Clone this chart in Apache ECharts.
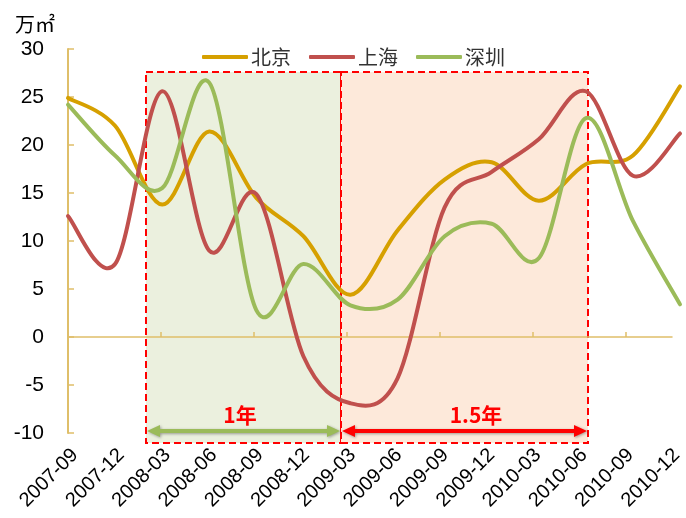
<!DOCTYPE html>
<html>
<head>
<meta charset="utf-8">
<script src="https://cdn.jsdelivr.net/npm/echarts@6/dist/echarts.min.js"></script>
<style>
  html, body { margin: 0; padding: 0; background: #fff; }
  #chart { width: 686px; height: 518px; }
</style>
</head>
<body>
<div id="chart"></div>
<script>
// quarterly categories
const months = ['2007-09', '2007-12', '2008-03', '2008-06', '2008-09', '2008-12', '2009-03',
  '2009-06', '2009-09', '2009-12', '2010-03', '2010-06', '2010-09', '2010-12'];

// 万㎡
const beijing = [24.9, 22.0, 13.8, 21.4, 14.5, 10.5, 4.4, 11.1, 16.4, 18.2, 14.2, 18.0, 18.9, 26.1];
const shanghai = [12.6, 7.6, 25.6, 9.0, 14.9, -2.0, -6.9, -4.3, 13.5, 17.2, 20.6, 25.6, 16.8, 21.2];
const shenzhen = [24.2, 18.9, 15.5, 26.5, 2.8, 7.6, 3.3, 3.9, 10.5, 11.8, 8.2, 22.8, 12.1, 3.4];

const seriesNames = ['北京', '上海', '深圳'];
const seriesColors = ['#d6a000', '#c0504d', '#9bbb59'];

const axisColor = '#dfbf6a';
const cjk = 'Noto Sans CJK SC';

// Excel-like smoothing: catmull-rom through the points, allowed to overshoot
function smoothPath(api, vals) {
  const pts = vals.map((v, i) => api.coord([i, v]));
  const n = pts.length;
  let d = 'M' + pts[0][0] + ' ' + pts[0][1];
  for (let i = 0; i < n - 1; i++) {
    const p0 = pts[Math.max(i - 1, 0)];
    const p1 = pts[i];
    const p2 = pts[i + 1];
    const p3 = pts[Math.min(i + 2, n - 1)];
    const c1 = [p1[0] + (p2[0] - p0[0]) / 6, p1[1] + (p2[1] - p0[1]) / 6];
    const c2 = [p2[0] - (p3[0] - p1[0]) / 6, p2[1] - (p3[1] - p1[1]) / 6];
    d += ' C' + c1.join(' ') + ' ' + c2.join(' ') + ' ' + p2.join(' ');
  }
  return d;
}

// period annotations drawn over the plot (pixels)
function doubleArrow(x1, x2, y, color) {
  const h = 6, L = 13, t = 2;
  return {
    type: 'polygon',
    z: 5,
    shape: {
      points: [[x1, y], [x1 + L, y - h], [x1 + L, y - t], [x2 - L, y - t], [x2 - L, y - h],
        [x2, y], [x2 - L, y + h], [x2 - L, y + t], [x1 + L, y + t], [x1 + L, y + h]]
    },
    style: {
      fill: color, shadowBlur: 3, shadowColor: 'rgba(0,0,0,0.35)',
      shadowOffsetX: 1, shadowOffsetY: 1
    }
  };
}

function periodLabel(x, y, text) {
  return {
    type: 'text', x: x, y: y, z: 5,
    style: {
      text: text, fill: '#ff0000', fontSize: 21, fontWeight: 'bold', fontFamily: cjk,
      align: 'center', verticalAlign: 'middle'
    }
  };
}

const chart = echarts.init(document.getElementById('chart'));

chart.setOption({
  animation: false,
  textStyle: { fontFamily: "'Liberation Sans', 'Noto Sans CJK SC'" },
  title: {
    text: '万㎡',
    left: 15,
    top: 14,
    padding: 0,
    textStyle: { fontSize: 20, fontWeight: 'normal', color: '#000', fontFamily: cjk }
  },
  legend: {
    data: seriesNames.map(name => ({ name: name, icon: 'roundRect' })),
    left: 202,
    top: 47,
    padding: 0,
    itemWidth: 46,
    itemHeight: 4,
    itemGap: 18,
    textStyle: { fontSize: 20, color: '#333', fontFamily: cjk, padding: [0, 0, 0, -2] }
  },
  grid: [
    { left: 68, right: 6, top: 49, bottom: 85 },
    { left: 68, right: 14, top: 49, bottom: 85 },
    { left: 75, right: 7, top: 49, bottom: 85 }
  ],
  xAxis: [
    { gridIndex: 0, type: 'category', data: months, boundaryGap: false, show: false },
    {
      gridIndex: 1, type: 'category', data: months, boundaryGap: false, position: 'bottom', z: 1,
      axisLine: { onZero: true, lineStyle: { color: axisColor, width: 1.5 } },
      axisTick: { inside: true, length: 5, lineStyle: { color: axisColor, width: 1.5 } },
      axisLabel: { show: false }
    },
    {
      gridIndex: 2, type: 'category', data: months, boundaryGap: false, position: 'bottom',
      axisLine: { show: false, onZero: false },
      axisTick: { show: false },
      axisLabel: { rotate: 45, fontSize: 20, color: '#000', margin: 19, interval: 0 }
    }
  ],
  yAxis: [
    {
      gridIndex: 0, type: 'value', min: -10, max: 30, interval: 5, z: 1,
      axisLine: { show: true, lineStyle: { color: axisColor, width: 2 } },
      axisTick: { show: true, inside: true, length: 6, lineStyle: { color: axisColor, width: 1.5 } },
      axisLabel: { fontSize: 21, color: '#000', margin: 24 },
      splitLine: { show: false }
    },
    { gridIndex: 1, type: 'value', min: -10, max: 30, interval: 5, show: false },
    { gridIndex: 2, type: 'value', min: -10, max: 30, interval: 5, show: false }
  ],
  graphic: [
    {
      type: 'rect', z: 0,
      shape: { x: 146, y: 72, width: 195, height: 371 },
      style: { fill: '#ebf0de', stroke: '#ff0000', lineWidth: 2, lineDash: [7, 4] }
    },
    {
      type: 'rect', z: 0,
      shape: { x: 341, y: 72, width: 247, height: 371 },
      style: { fill: '#fde9da', stroke: '#ff0000', lineWidth: 2, lineDash: [7, 4] }
    },
    doubleArrow(147, 340, 431, '#9bbb59'),
    doubleArrow(342, 587, 431, '#ff0000'),
    periodLabel(240, 415, '1年'),
    periodLabel(476, 415, '1.5年')
  ],
  series: [beijing, shanghai, shenzhen].map((vals, i) => ({
    name: seriesNames[i],
    type: 'custom',
    xAxisIndex: 0,
    yAxisIndex: 0,
    z: 3,
    data: vals.map((v, k) => [k, v]),
    encode: { x: 0, y: 1 },
    itemStyle: { color: seriesColors[i] },
    renderItem: (params, api) => {
      if (params.dataIndexInside !== 0) return null;
      return {
        type: 'path',
        shape: { pathData: smoothPath(api, vals) },
        style: { fill: 'none', stroke: seriesColors[i], lineWidth: 4, lineCap: 'round', lineJoin: 'round' }
      };
    }
  }))
});

window.addEventListener('resize', () => {
  chart.resize();
});
</script>
</body>
</html>
